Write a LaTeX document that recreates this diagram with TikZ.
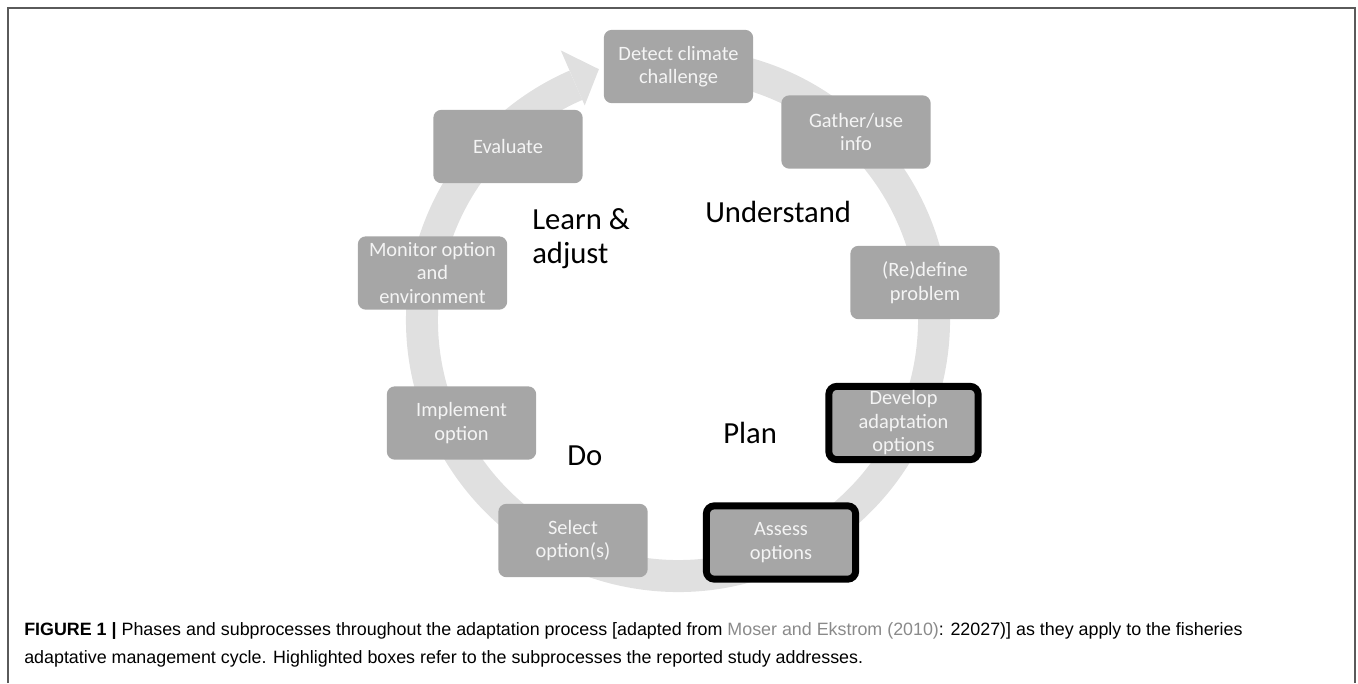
\documentclass[tikz,border=0pt]{standalone}
\usepackage{fontspec}
\setmainfont{Liberation Sans}
\newfontfamily\calib{Carlito}
\newfontfamily\capfnt{Liberation Sans}
\definecolor{boxgray}{HTML}{A6A6A6}
\definecolor{boxtext}{HTML}{F4F4F4}
\definecolor{ringgray}{HTML}{E0E0E0}
\definecolor{framegray}{HTML}{5A5A5A}
\definecolor{linkgray}{HTML}{8A8A8A}
\newcommand\boxfnt{\calib\fontsize{15.3}{17.6}\selectfont}
\newcommand\phasefnt{\calib\fontsize{23}{24.8}\selectfont}
\newcommand\captfnt{\capfnt\fontsize{13.4}{20.3}\selectfont}
\begin{document}
\begin{tikzpicture}[x=0.75pt,y=-0.75pt,
  box/.style={rounded corners=6pt, fill=boxgray, text=boxtext, minimum width=112pt,
    minimum height=55pt, align=center, font=\boxfnt, inner sep=2pt},
  hibox/.style={box, draw=black, line width=5.2pt},
  phase/.style={font=\phasefnt, text=black, inner sep=0pt, align=left},
  ringline/.style={draw=ringgray, line width=24pt},
  ringhead/.style={fill=ringgray}
]
\useasboundingbox (0,0) rectangle (1358,683);
% frame
\draw[framegray, line width=1.4pt] (8,683) -- (8,8) -- (1355,8) -- (1355,683);
% ring
\coordinate (c) at (678,320);
\draw[ringline] ([shift={(-80:256)}]c) arc[start angle=-80, end angle=246.5, radius=256];
\fill[ringhead] ([shift={(246.5:234)}]c) -- ([shift={(252.5:263)}]c) -- ([shift={(246.5:294)}]c) -- cycle;
% boxes
\node[box] (detect) at (678.5,66.5) {Detect climate\\challenge};
\node[box] (gather) at (856,132) {Gather/use\\info};
\node[box] (redefine) at (925,282.5) {(Re)define\\problem};
\node[hibox] (develop) at (903.5,423) {Develop\\adaptation\\options};
\node[hibox] (assess) at (781,542.5) {Assess\\options};
\node[box] (select) at (573,540.5) {Select\\option(s)};
\node[box] (implement) at (461.5,423) {Implement\\option};
\node[box] (monitor) at (432.5,273) {Monitor option\\and\\environment};
\node[box] (evaluate) at (508,146.5) {Evaluate};
% phase labels
\node[phase, anchor=base west] (understand) at (705,222) {Understand};
\node[phase, anchor=base west] (learn) at (532,263) {Learn \&\\adjust};
\node[phase, anchor=base west] (plan) at (723,443) {Plan};
\node[phase, anchor=base west] (do) at (567,465) {Do};
% caption
\node[anchor=base west, inner sep=0pt, align=left, font=\captfnt] (caption) at (24,663)
 {\textbf{FIGURE 1 |} Phases and subprocesses throughout the adaptation process [adapted from {\color{linkgray}Moser and Ekstrom (2010)}: 22027)] as they apply to the fisheries\\
 adaptative management cycle. Highlighted boxes refer to the subprocesses the reported study addresses.};
\end{tikzpicture}
\end{document}
